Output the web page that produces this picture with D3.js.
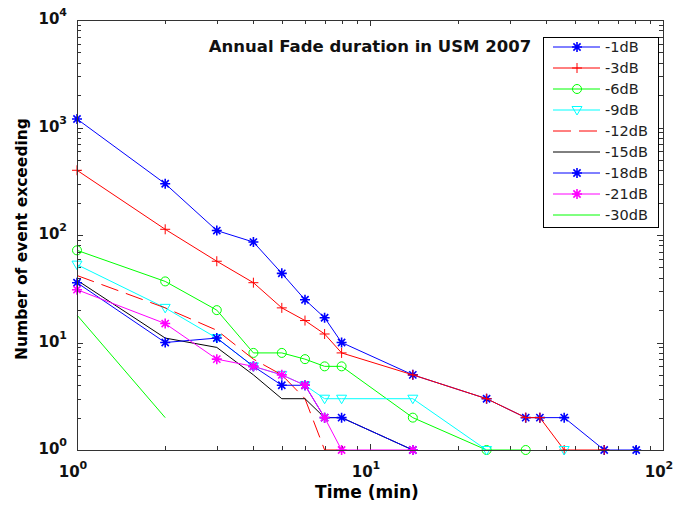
<!DOCTYPE html>
<html>
<head>
<meta charset="utf-8">
<script src="https://cdn.jsdelivr.net/npm/d3@7"></script>
<style>
  body { margin: 0; background: #fff; }
  svg { font-family: "DejaVu Sans", sans-serif; }
</style>
</head>
<body>
<svg id="chart" width="673" height="510"></svg>
<script>
// fade duration bins (min), shared by every series
var times = [1, 2, 3, 4, 5, 6, 7, 8, 14, 25, 34, 38, 46, 63, 81];

// number of events exceeding, per fade level (null = no event, not drawn on log axis)
var db1  = [1200, 300, 110, 86, 44, 25, 17, 10, 5, 3, 2, 2, 2, 1, 1];
var db3  = [400, 113, 57, 36, 21, 16, 12, 8, 5, 3, 2, 2, 1, 1, null];
var db6  = [72, 37, 20, 8, 8, 7, 6, 6, 2, 1, 1, null, null, null, null];
var db9  = [53, 21, 11, 6, 5, 4, 3, 3, 3, 1, null, null, 1, null, null];
var db12 = [42, 21, 13, 7, 5, 3, 1, 1, null, null, null, null, null, null, null];
var db15 = [38, 11, 9, 5, 3, 3, 2, 2, 1, null, null, null, null, null, null];
var db18 = [36, 10, 11, 6, 4, 4, 2, 2, 1, null, null, null, null, null, null];
var db21 = [31, 15, 7, 6, 5, 4, 2, 1, 1, null, null, null, null, null, null];
var db30 = [18, 2, null, null, null, null, null, null, null, null, null, null, null, null, null];

var seriesNames = ['-1dB', '-3dB', '-6dB', '-9dB', '-12dB', '-15dB', '-18dB', '-21dB', '-30dB'];
var seriesValues = [db1, db3, db6, db9, db12, db15, db18, db21, db30];

var xTickLabels = ['0', '1', '2'];
var yTickLabels = ['0', '1', '2', '3', '4'];

// line styles, matlab style
var styles = {
    '-1dB':  { color: '#0000ff', marker: 'star' },
    '-3dB':  { color: '#ff0000', marker: 'plus' },
    '-6dB':  { color: '#00ff00', marker: 'circle' },
    '-9dB':  { color: '#00ffff', marker: 'tri' },
    '-12dB': { color: '#ff0000', marker: null, dash: '18,8' },
    '-15dB': { color: '#000000', marker: null },
    '-18dB': { color: '#0000ff', marker: 'star' },
    '-21dB': { color: '#ff00ff', marker: 'star' },
    '-30dB': { color: '#00ff00', marker: null }
};

var plot_left = 77, plot_right = 663, plot_top = 20, plot_bottom = 450;

var svg = d3.select('#chart');

var x = d3.scaleLog().domain([1, 100]).range([plot_left, plot_right]);
var y = d3.scaleLog().domain([1, 10000]).range([plot_bottom, plot_top]);

var axisColor = '#333';

// plot box
svg.append('rect')
    .attr('x', plot_left).attr('y', plot_top)
    .attr('width', plot_right - plot_left).attr('height', plot_bottom - plot_top)
    .attr('fill', '#fff');

// ticks (inward, on all four sides)
var isMajor = function(v) {
    return Math.abs(Math.log10(v) - Math.round(Math.log10(v))) < 1e-9;
};
var ticks = svg.append('g').attr('stroke', axisColor).attr('stroke-width', 1);
x.ticks().forEach(function(v) {
    var len = isMajor(v) ? 6 : 4;
    var px = Math.round(x(v)) + 0.5;
    ticks.append('line').attr('x1', px).attr('x2', px).attr('y1', plot_bottom).attr('y2', plot_bottom - len);
    ticks.append('line').attr('x1', px).attr('x2', px).attr('y1', plot_top).attr('y2', plot_top + len);
});
y.ticks().forEach(function(v) {
    var len = isMajor(v) ? 6 : 4;
    var py = Math.round(y(v)) + 0.5;
    ticks.append('line').attr('y1', py).attr('y2', py).attr('x1', plot_left).attr('x2', plot_left + len);
    ticks.append('line').attr('y1', py).attr('y2', py).attr('x1', plot_right).attr('x2', plot_right - len);
});

// tick labels 10^n
var xl = svg.append('g').attr('font-weight', 'bold').attr('fill', '#111');
[1, 10, 100].forEach(function(v, i) {
    var t = xl.append('text')
        .attr('x', x(v) - 4).attr('y', plot_bottom + 27)
        .attr('text-anchor', 'middle')
        .attr('font-size', 15);
    t.append('tspan').text('10');
    t.append('tspan').attr('dy', -8).attr('font-size', 11).text(xTickLabels[i]);
});
[1, 10, 100, 1000, 10000].forEach(function(v, i) {
    var t = xl.append('text')
        .attr('x', plot_left - 10).attr('y', y(v) + 4)
        .attr('text-anchor', 'end')
        .attr('font-size', 15);
    t.append('tspan').text('10');
    t.append('tspan').attr('dy', -8).attr('font-size', 11).text(yTickLabels[i]);
});

// axis labels
svg.append('text')
    .attr('x', 367).attr('y', 498)
    .attr('text-anchor', 'middle')
    .attr('font-size', 17).attr('font-weight', 'bold')
    .text('Time (min)');
svg.append('text')
    .attr('transform', 'translate(27,' + ((plot_top + plot_bottom) / 2 + 4) + ') rotate(-90)')
    .attr('text-anchor', 'middle')
    .attr('font-size', 15.5).attr('font-weight', 'bold')
    .text('Number of event exceeding');

// markers
var markerPath = function(type, cx, cy) {
    var r = 5, p = '';
    if (type === 'plus' || type === 'star') {
        p += 'M' + (cx - r) + ',' + cy + 'H' + (cx + r) + 'M' + cx + ',' + (cy - r) + 'V' + (cy + r);
    }
    if (type === 'star') {
        var q = r * 0.72;
        p += 'M' + (cx - q) + ',' + (cy - q) + 'L' + (cx + q) + ',' + (cy + q);
        p += 'M' + (cx - q) + ',' + (cy + q) + 'L' + (cx + q) + ',' + (cy - q);
    }
    if (type === 'tri') {
        p += 'M' + (cx - 5) + ',' + (cy - 3.5) + 'H' + (cx + 5) + 'L' + cx + ',' + (cy + 5) + 'Z';
    }
    if (type === 'circle') {
        var c = 4.5;
        p += 'M' + (cx - c) + ',' + cy + 'a' + c + ',' + c + ' 0 1,0 ' + (2 * c) + ',0' +
             'a' + c + ',' + c + ' 0 1,0 ' + (-2 * c) + ',0';
    }
    return p;
};

var plot = svg.append('g');
var line = d3.line()
    .defined(function(d) { return d.v !== null; })
    .x(function(d) { return x(d.t); })
    .y(function(d) { return y(d.v); });

seriesNames.forEach(function(name, si) {
    var st = styles[name];
    var pts = times.map(function(t, i) { return { t: t, v: seriesValues[si][i] }; });
    plot.append('path')
        .attr('d', line(pts))
        .attr('fill', 'none')
        .attr('stroke', st.color)
        .attr('stroke-width', 1)
        .attr('stroke-dasharray', st.dash || null);
    if (st.marker) {
        plot.append('g').selectAll('path').data(pts.filter(function(d) { return d.v !== null; }))
            .enter().append('path')
            .attr('d', function(d) { return markerPath(st.marker, x(d.t), y(d.v)); })
            .attr('fill', 'none')
            .attr('stroke', st.color)
            .attr('stroke-width', st.marker === 'star' ? 1.6 : 1);
    }
});

// box border on top of data
svg.append('rect')
    .attr('x', plot_left + 0.5).attr('y', plot_top + 0.5)
    .attr('width', plot_right - plot_left).attr('height', plot_bottom - plot_top)
    .attr('fill', 'none').attr('stroke', axisColor).attr('stroke-width', 1);

// title
svg.append('text')
    .attr('x', 370).attr('y', 52)
    .attr('text-anchor', 'middle')
    .attr('font-size', 16.5).attr('font-weight', 'bold')
    .attr('fill', '#111')
    .text('Annual Fade duration in USM 2007');

// legend
var lg = svg.append('g');
lg.append('rect')
    .attr('x', 543.5).attr('y', 37.5)
    .attr('width', 115).attr('height', 190)
    .attr('fill', '#fff').attr('stroke', '#000').attr('stroke-width', 1);
seriesNames.forEach(function(name, i) {
    var st = styles[name];
    var ly = 47 + i * 21;
    lg.append('line')
        .attr('x1', 553).attr('x2', 600).attr('y1', ly).attr('y2', ly)
        .attr('stroke', st.color).attr('stroke-width', 1)
        .attr('stroke-dasharray', st.dash || null);
    if (st.marker) {
        lg.append('path')
            .attr('d', markerPath(st.marker, 577, ly))
            .attr('fill', 'none').attr('stroke', st.color)
            .attr('stroke-width', st.marker === 'star' ? 1.6 : 1);
    }
    lg.append('text')
        .attr('x', 605).attr('y', ly + 5)
        .attr('font-size', 14.5).attr('fill', '#222')
        .text(name);
});
</script>
</body>
</html>
